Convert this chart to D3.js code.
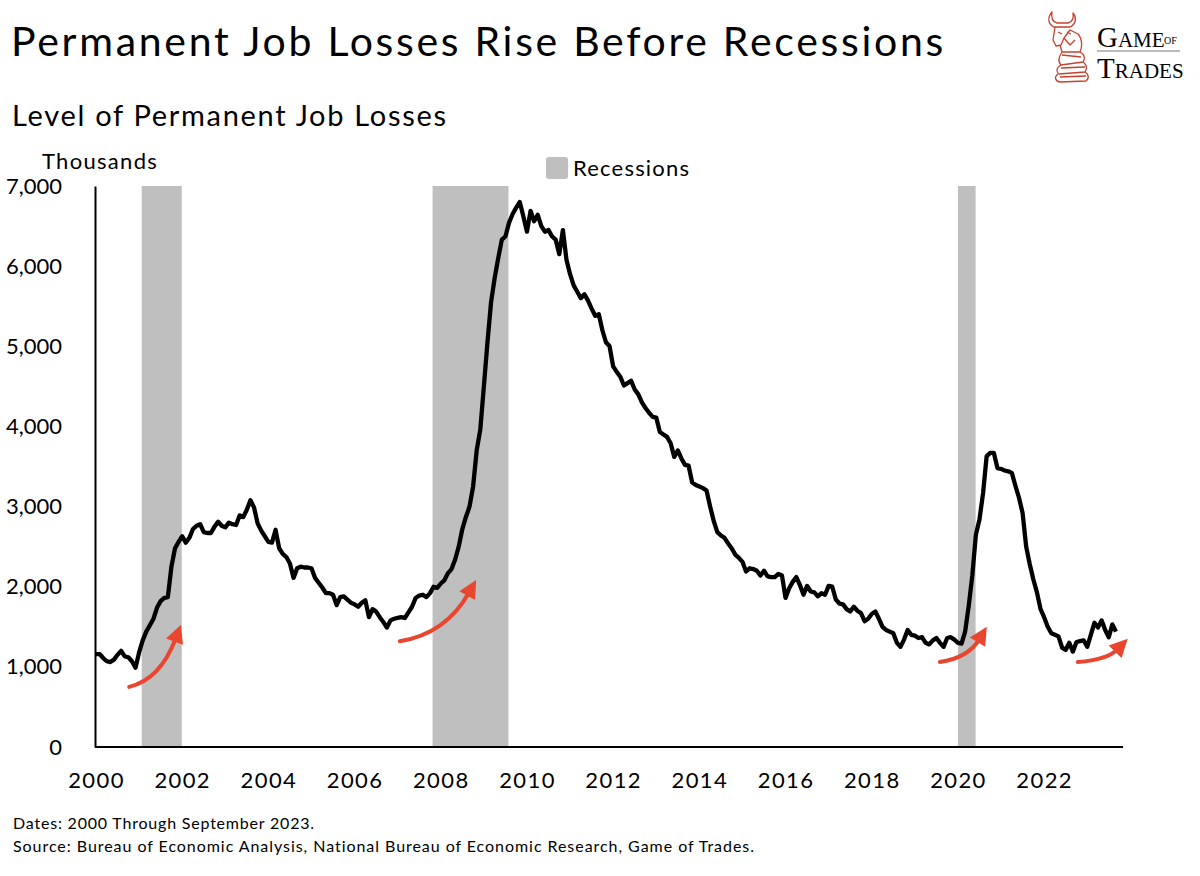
<!DOCTYPE html>
<html>
<head>
<meta charset="utf-8">
<script src="https://cdn.jsdelivr.net/npm/d3@7"></script>
<style>
  body { margin: 0; background: #fff; }
  svg { display: block; }
  text { font-family: Lato, "Noto Sans", sans-serif; fill: #000; }
</style>
</head>
<body>
<svg id="chart"></svg>
<script>
// monthly level of permanent job losses, thousands, Jan 2000 .. Sep 2023
let startYear = 2000
let jobLosses = [
  1160, 1160, 1110, 1070, 1060, 1090, 1150, 1200, 1130, 1120, 1070, 990,   // 2000
  1180, 1330, 1440, 1520, 1600, 1740, 1820, 1860, 1870, 2250, 2480, 2560,  // 2001
  2630, 2550, 2610, 2720, 2760, 2780, 2680, 2670, 2670, 2750, 2810, 2760,  // 2002
  2740, 2800, 2780, 2770, 2890, 2870, 2960, 3080, 2990, 2790, 2700, 2630,  // 2003
  2560, 2550, 2710, 2480, 2410, 2370, 2290, 2110, 2230, 2250, 2240, 2240,  // 2004
  2230, 2110, 2050, 1990, 1920, 1920, 1900, 1770, 1870, 1880, 1840, 1800,  // 2005
  1780, 1750, 1800, 1830, 1620, 1720, 1690, 1620, 1560, 1490, 1580, 1600,  // 2006
  1610, 1620, 1610, 1680, 1750, 1860, 1890, 1900, 1870, 1920, 2000, 1985,  // 2007
  2040, 2080, 2170, 2220, 2340, 2500, 2720, 2870, 3000, 3250, 3700, 3960,  // 2008
  4500, 5050, 5550, 5850, 6100, 6330, 6370, 6540, 6650, 6730, 6800, 6620,  // 2009
  6430, 6690, 6560, 6640, 6500, 6430, 6450, 6370, 6330, 6150, 6450, 6080,  // 2010
  5900, 5760, 5680, 5600, 5650, 5570, 5470, 5380, 5400, 5200, 5050, 5000,  // 2011
  4750, 4680, 4620, 4510, 4540, 4570, 4460, 4400, 4300, 4230, 4170, 4120,  // 2012
  4110, 3930, 3900, 3870, 3790, 3620, 3700, 3600, 3520, 3510, 3300, 3270,  // 2013
  3250, 3230, 3200, 3000, 2820, 2680, 2640, 2610, 2540, 2480, 2400, 2360,  // 2014
  2310, 2190, 2230, 2220, 2200, 2140, 2200, 2130, 2120, 2120, 2160, 2140,  // 2015
  1860, 1980, 2060, 2120, 2020, 1900, 2010, 1940, 1930, 1880, 1920, 1900,  // 2016
  2010, 2000, 1840, 1790, 1780, 1720, 1690, 1750, 1700, 1670, 1570, 1600,  // 2017
  1660, 1690, 1600, 1500, 1460, 1440, 1420, 1300, 1250, 1340, 1460, 1400,  // 2018
  1390, 1360, 1370, 1300, 1280, 1330, 1360, 1300, 1250, 1360, 1370, 1340,  // 2019
  1300, 1290, 1440, 1760, 2140, 2650, 2840, 3170, 3630, 3670, 3670, 3480,  // 2020
  3470, 3450, 3440, 3420, 3260, 3110, 2920, 2500, 2280, 2090, 1930, 1720,  // 2021
  1620, 1500, 1420, 1400, 1380, 1240, 1210, 1300, 1190, 1310, 1320, 1330,  // 2022
  1250, 1400, 1550, 1490, 1580, 1460, 1370, 1530, 1440                    // 2023
]

// recession spans as decimal years
let recessionStarts = [2001.06, 2007.81, 2020.0]
let recessionEnds = [2001.99, 2009.57, 2020.41]

let xTicks = [2000, 2002, 2004, 2006, 2008, 2010, 2012, 2014, 2016, 2018, 2020, 2022]
let yTicks = [0, 1000, 2000, 3000, 4000, 5000, 6000, 7000]

// red "rising" arrows: tail and head in data units (decimal year, thousands)
let arrowFromX = [2000.77, 2007.05, 2019.58, 2022.78]
let arrowFromY = [750, 1320, 1060, 1060]
let arrowToX = [2001.97, 2008.82, 2020.67, 2023.94]
let arrowToY = [1525, 2085, 1500, 1350]

let svgWidth = 1200, svgHeight = 876
let svg = d3.select('#chart').attr('width', svgWidth).attr('height', svgHeight)

let x = d3.scaleLinear().domain([2000, 2023.83]).range([96, 1123])
let y = d3.scaleLinear().domain([0, 7000]).range([747, 186])

let series = jobLosses.map((v, i) => ({ t: startYear + i / 12, v: v }))

// titles
svg.append('text').attr('x', 11).attr('y', 56).style('font-size', '41px').style('letter-spacing', '2.7px').text('Permanent Job Losses Rise Before Recessions')
svg.append('text').attr('x', 12).attr('y', 126).style('font-size', '29px').style('letter-spacing', '1.7px').text('Level of Permanent Job Losses')
svg.append('text').attr('x', 42).attr('y', 169).style('font-size', '22px').style('letter-spacing', '1.3px').text('Thousands')

// recession bars
svg.append('g').selectAll('rect').data(recessionStarts).enter().append('rect')
  .attr('x', d => x(d))
  .attr('width', (d, i) => x(recessionEnds[i]) - x(d))
  .attr('y', y(7000))
  .attr('height', y(0) - y(7000))
  .attr('fill', '#bfbfbf')

// legend
svg.append('rect').attr('x', 546).attr('y', 157).attr('width', 22).attr('height', 22).attr('rx', 3).attr('fill', '#bfbfbf')
svg.append('text').attr('x', 573).attr('y', 176).style('font-size', '22px').style('letter-spacing', '1.2px').text('Recessions')

// axes
let yAxis = svg.append('g').attr('transform', 'translate(95,0)')
  .call(d3.axisLeft(y).tickValues(yTicks).tickSize(0).tickSizeOuter(0).tickPadding(33).tickFormat(d3.format(',')))
yAxis.select('.domain').attr('stroke', '#000').attr('stroke-width', 2)
yAxis.selectAll('text').style('font-size', '22px').style('font-family', 'Lato, sans-serif').attr('fill', '#000')

let xAxis = svg.append('g').attr('transform', 'translate(0,747)')
  .call(d3.axisBottom(x).tickValues(xTicks).tickSize(0).tickSizeOuter(0).tickPadding(25).tickFormat(d3.format('d')))
xAxis.select('.domain').attr('stroke', '#000').attr('stroke-width', 2).attr('d', `M${x.range()[0] - 1},0H${x.range()[1]}`)
xAxis.selectAll('text').style('font-size', '22px').style('letter-spacing', '1.4px').style('font-family', 'Lato, sans-serif').attr('fill', '#000')

// line
let line = d3.line().x(d => x(d.t)).y(d => y(d.v))
svg.append('path').datum(series)
  .attr('d', line)
  .attr('fill', 'none')
  .attr('stroke', '#000')
  .attr('stroke-width', 4.3)
  .attr('stroke-linejoin', 'round')

// arrows
let arrowColor = '#e8462e'
let ag = svg.append('g')
arrowFromX.forEach((fx, i) => {
  let x0 = x(fx), y0 = y(arrowFromY[i]), x1 = x(arrowToX[i]), y1 = y(arrowToY[i])
  let cx = x0 + 0.6 * (x1 - x0), cy = y0 + 0.12 * (y1 - y0)
  // direction at the tip
  let dx = x1 - cx, dy = y1 - cy, len = Math.sqrt(dx * dx + dy * dy)
  let ux = dx / len, uy = dy / len
  let headLen = 18, headHalf = 9
  let bx = x1 - ux * headLen, by = y1 - uy * headLen
  ag.append('path')
    .attr('d', `M${x0},${y0}Q${cx},${cy} ${bx + ux * 3},${by + uy * 3}`)
    .attr('fill', 'none').attr('stroke', arrowColor).attr('stroke-width', 4).attr('stroke-linecap', 'round')
  ag.append('path')
    .attr('d', `M${x1},${y1}L${bx - uy * headHalf},${by + ux * headHalf}L${bx + uy * headHalf},${by - ux * headHalf}Z`)
    .attr('fill', arrowColor)
})

// footnotes
svg.append('text').attr('x', 13).attr('y', 829).style('font-size', '16px').style('letter-spacing', '0.8px').text('Dates: 2000 Through September 2023.')
svg.append('text').attr('x', 13).attr('y', 852).style('font-size', '16px').style('letter-spacing', '0.95px').text('Source: Bureau of Economic Analysis, National Bureau of Economic Research, Game of Trades.')

// logo
let logo = svg.append('g').attr('fill', 'none').attr('stroke', '#c8412f').attr('stroke-width', 1.3).attr('stroke-linejoin', 'round')
logo.append('path').attr('d', 'M1052,12 C1047,18 1048,24 1054,27 L1070,27 C1076,24 1077,18 1073,13 C1074,19 1072,22 1068,23 L1057,23 C1053,22 1051,18 1052,12 Z')
logo.append('path').attr('d', 'M1055,27 L1053,40 L1056,46 L1061,45 L1064,38 L1070,30 L1078,34 C1083,40 1082,48 1080,52 L1062,52 L1060,45')
logo.append('path').attr('d', 'M1064,38 L1070,45 L1075,40 M1058,32 L1062,34 M1067,32 L1071,34')
logo.append('path').attr('d', 'M1062,52 C1058,58 1058,62 1061,65 L1083,62 C1086,58 1084,54 1080,52')
logo.append('path').attr('d', 'M1061,65 C1056,68 1056,72 1059,74 L1085,72 C1088,68 1086,64 1083,62')
logo.append('path').attr('d', 'M1058,74 C1054,77 1055,81 1060,82 L1086,81 C1090,78 1088,74 1085,72')
logo.append('path').attr('d', 'M1062,55 L1081,57 M1061,68 L1085,67 M1060,77 L1086,76')
let lt = svg.append('g').attr('fill', '#222')
let g1 = lt.append('text').attr('x', 1097).attr('y', 47).style('font-family', '"Liberation Serif", serif')
g1.append('tspan').style('font-size', '29px').text('G')
g1.append('tspan').style('font-size', '21px').text('AME')
lt.append('text').attr('x', 1164).attr('y', 44).style('font-family', '"Liberation Serif", serif').style('font-size', '10px').text('OF')
let g2 = lt.append('text').attr('x', 1097).attr('y', 78).style('font-family', '"Liberation Serif", serif')
g2.append('tspan').style('font-size', '29px').text('T')
g2.append('tspan').style('font-size', '21px').text('RADES')
svg.append('line').attr('x1', 1097).attr('x2', 1180).attr('y1', 51).attr('y2', 51).attr('stroke', '#555').attr('stroke-width', 0.8)
</script>
</body>
</html>
